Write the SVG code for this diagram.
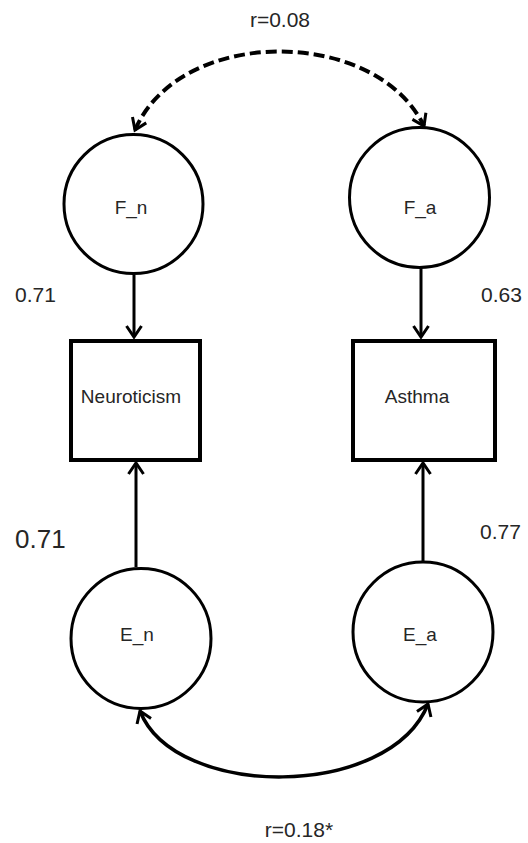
<svg xmlns="http://www.w3.org/2000/svg" width="528" height="843" viewBox="0 0 528 843">
<defs>
<style>
.node{fill:#fff;stroke:#000;stroke-width:3}
.box{fill:#fff;stroke:#000;stroke-width:4}
.lbl{font-family:"Liberation Sans",Arial,sans-serif;font-size:19px;fill:#262626;text-anchor:middle}
.num{font-family:"Liberation Sans",Arial,sans-serif;font-size:21px;fill:#262626}
.edge{fill:none;stroke:#000;stroke-width:3}
.dash{fill:none;stroke:#000;stroke-width:4;stroke-dasharray:11 5}
</style>
<marker id="ah" markerUnits="userSpaceOnUse" orient="auto-start-reverse" overflow="visible" markerWidth="20" markerHeight="20" refX="0" refY="0">
<path d="M-11,-7.5 L0,0 L-11,7.5" fill="none" stroke="#000" stroke-width="3" stroke-linejoin="miter"/>
</marker>
</defs>
<rect width="528" height="843" fill="#fff"/>
<g id="connectors">
<path class="dash" d="M135,130 C180,26 375,26 424,126" marker-start="url(#ah)" marker-end="url(#ah)"/>
<line class="edge" x1="134" y1="275" x2="134" y2="337" marker-end="url(#ah)"/>
<line class="edge" x1="421" y1="268" x2="421" y2="337" marker-end="url(#ah)"/>
<line class="edge" x1="136" y1="567" x2="136" y2="463" marker-end="url(#ah)"/>
<line class="edge" x1="423" y1="561" x2="423" y2="463" marker-end="url(#ah)"/>
<path class="edge" style="stroke-width:3.5" d="M140,711 C175,800 390,800 428,704" marker-start="url(#ah)" marker-end="url(#ah)"/>
</g>
<g id="F_n"><circle class="node" cx="133.5" cy="204" r="69.5"/><text class="lbl" x="131" y="214">F_n</text></g>
<g id="F_a"><circle class="node" cx="419.5" cy="197.5" r="70"/><text class="lbl" x="420" y="214">F_a</text></g>
<g id="Neuroticism"><rect class="box" x="71" y="341" width="129" height="119"/><text class="lbl" x="131" y="403">Neuroticism</text></g>
<g id="Asthma"><rect class="box" x="353" y="341" width="142" height="119"/><text class="lbl" x="417" y="403">Asthma</text></g>
<g id="E_n"><circle class="node" cx="141" cy="638.5" r="70"/><text class="lbl" x="137" y="641">E_n</text></g>
<g id="E_a"><circle class="node" cx="423" cy="632" r="70"/><text class="lbl" x="420" y="641">E_a</text></g>
<g id="labels">
<text class="lbl" style="font-size:21px" x="280" y="27">r=0.08</text>
<text class="num" x="15" y="302">0.71</text>
<text class="num" x="481" y="302">0.63</text>
<text class="num" style="font-size:26px" x="15" y="548">0.71</text>
<text class="num" x="480" y="539">0.77</text>
<text class="lbl" style="font-size:21px" x="299" y="837">r=0.18*</text>
</g>
</svg>
